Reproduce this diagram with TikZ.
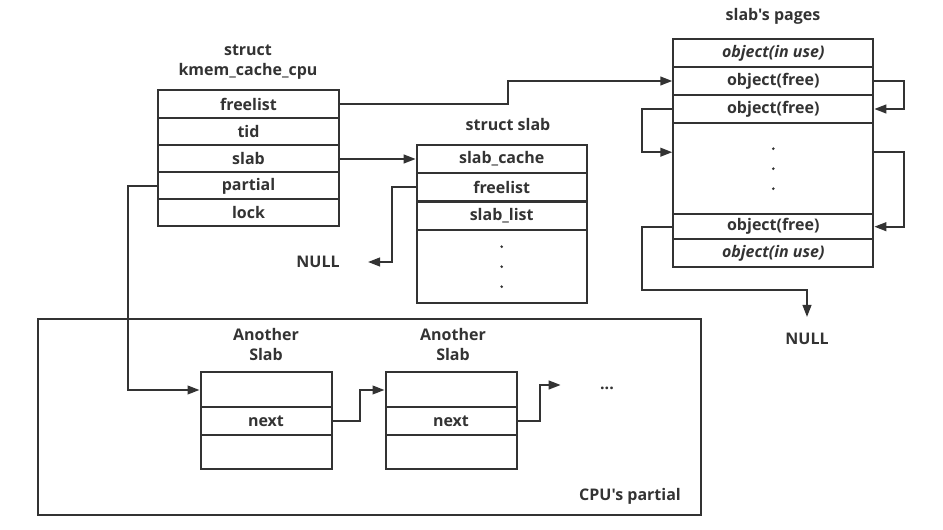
\documentclass[tikz,border=0pt]{standalone}
\usepackage{fontspec}
\setmainfont{Open Sans}[Ligatures=TeXOff]
\usepackage{tikz}
\usetikzlibrary{arrows.meta,calc}
\definecolor{ink}{HTML}{333333}

\begin{document}
\begin{tikzpicture}[x=0.75pt, y=-0.75pt, line width=1.5pt, draw=ink, text=ink,
  font=\bfseries\fontsize{12}{15}\selectfont,
  cell/.style 2 args={draw, inner sep=0pt, minimum width=#1*0.75pt, minimum height=#2*0.75pt},
  inuse/.style={font=\bfseries\itshape\fontsize{12}{15}\selectfont},
  arr/.style={-{Triangle[length=9pt,width=6.5pt]}}]
\useasboundingbox (0,0) rectangle (943,530);

\node [align=center] (CT) at (248,62) {struct\\kmem\_cache\_cpu};
\node [cell={181}{28}] (cfree) at (248.5,104) {freelist};
\node [cell={181}{27}] (ctid) at (248.5,132) {tid};
\node [cell={181}{27}] (cslab) at (248.5,159) {slab};
\node [cell={181}{27}] (cpart) at (248.5,186) {partial};
\node [cell={181}{27}] (clock) at (248.5,213) {lock};

\node (ST) at (508,125) {struct slab};
\node [cell={170}{28}] (scache) at (501.7,159) {slab\_cache};
\node [cell={170}{28}] (sfree) at (501.7,187.5) {freelist};
\node [cell={170}{28}] (slist) at (501.7,216) {slab\_list};
\node [cell={170}{73}] (sdots) at (501.7,266.7) {};
\node (nullA) at (318,262) {NULL};
\coordinate (nullAtip) at (368,262);

\node (PT) at (773,16) {slab's pages};
\node [cell={200}{28}, inuse] (pusedA) at (773.3,53) {object(in use)};
\node [cell={200}{28}] (pfreeA) at (773.3,81) {object(free)};
\node [cell={200}{28}] (pfreeB) at (773.3,109) {object(free)};
\node [cell={200}{91}] (pdots) at (773.3,168.7) {};
\node [cell={200}{25}] (pfreeC) at (773.3,226.7) {object(free)};
\node [cell={200}{28}, inuse] (pusedB) at (773.3,253.5) {object(in use)};
\node (nullB) at (807,339) {NULL};
\coordinate (nullBtip) at (807,317);

\foreach \n in {sdots,pdots}
  \foreach \dy in {-20,0,20}
    \fill [ink] ($(\n.center)+(0,\dy)$) circle [radius=1.1pt];

\draw (38.3,319.3) rectangle (701,515);
\node (CP) at (630,496) {CPU's partial};
\node [align=center] (AT) at (266,345) {Another\\Slab};
\node [cell={131}{35}] (aTop) at (266,390) {};
\node [cell={131}{28}] (aNext) at (266,421) {next};
\node [cell={131}{34}] (aBot) at (266,452) {};
\node [align=center] (BT) at (453,345) {Another\\Slab};
\node [cell={131}{35}] (bTop) at (451,390) {};
\node [cell={131}{28}] (bNext) at (451,421) {next};
\node [cell={131}{34}] (bBot) at (451,452) {};
\node (more) at (607,388) {...};
\coordinate (moretip) at (560.7,385);

\draw [arr] (cfree.east) -- ++(168,0) |- (pfreeA.west);
\draw [arr] (cslab.east) -- (scache.west);
\draw [arr] (sfree.west) -- ++(-24,0) |- (nullAtip);
\draw [arr] (cpart.west) -- ++(-29.5,0) |- (aTop.west);
\draw [arr] (aNext.east) -- ++(27.5,0) |- (bTop.west);
\draw [arr] (bNext.east) -- ++(22.5,0) |- (moretip);
\draw [arr] (pfreeA.east) -- ++(30,0) |- (pfreeB.east);
\draw [arr] (pfreeB.west) -- ++(-30,0) |- ($(pdots.north west)+(0,30)$);
\draw [arr] ($(pdots.north east)+(0,30)$) -- ++(30,0) |- (pfreeC.east);
\draw [arr] (pfreeC.west) -- ++(-30,0) |- ($(nullBtip)+(0,-27)$) -- (nullBtip);
\end{tikzpicture}
\end{document}
